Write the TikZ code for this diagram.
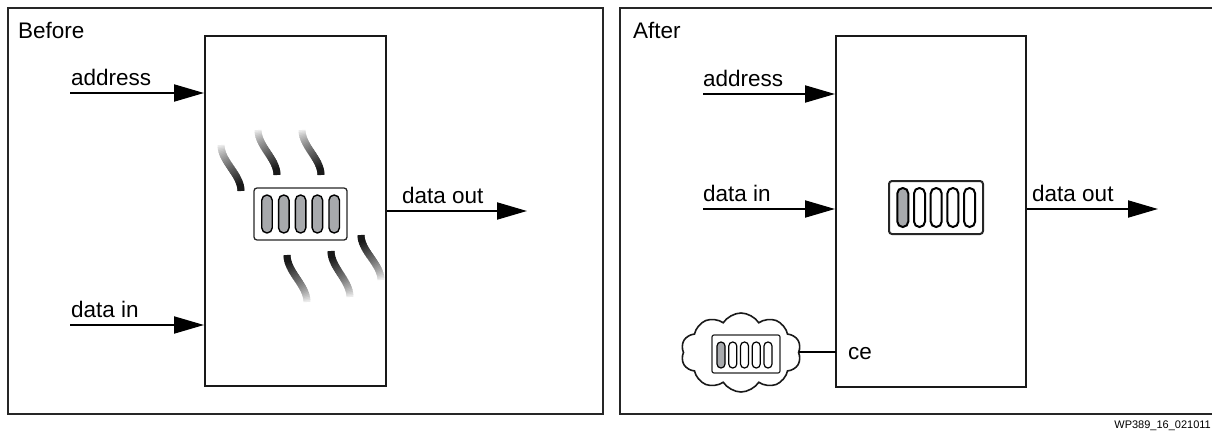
\documentclass[tikz,border=0pt]{standalone}
\usepackage{fontspec}
\setmainfont{Liberation Sans}
\usetikzlibrary{shapes.symbols,arrows.meta}
\definecolor{pillgray}{HTML}{A7A9AC}
\tikzset{
  frame/.style={draw=black!85,line width=2pt},
  block/.style={draw=black!90,line width=2pt},
  sig/.style={line width=2pt,-{Triangle[length=30pt,width=17pt]}},
  lbl/.style={font=\fontsize{22.5}{26}\selectfont,anchor=base west,inner sep=0pt},
  reg/.style={draw=black!85,rounded corners=3pt},
}
% pill: #1 x center, #2 top y, #3 bottom y, #4 width, #5 fill, #6 line width
\newcommand{\mypill}[6]{%
  \draw[line width=#6,fill=#5,rounded corners=#4*0.5pt*0.99]
    ({#1-#4/2},#2) rectangle ({#1+#4/2},#3);}
% heat wave: faded end (#1,#2) to dark end (#3,#4)
\newcommand{\heatwave}[4]{%
  \foreach \i in {0,...,29}{%
    \pgfmathsetmacro{\sa}{\i/30}%
    \pgfmathsetmacro{\sb}{min(1,(\i+1.6)/30)}%
    \pgfmathsetmacro{\dk}{min(90,100*((\i+1)/30)^0.75)}%
    \draw[line width=7pt,color=black!\dk]
      ({#1+(#3-#1)*(1-cos(180*\sa))/2},{#2+(#4-#2)*\sa}) --
      ({#1+(#3-#1)*(1-cos(180*\sb))/2},{#2+(#4-#2)*\sb});}}
\begin{document}
\begin{tikzpicture}[x=1pt,y=-1pt]
\useasboundingbox (0,0) rectangle (1212,436);
% frames
\draw[frame] (8,8) rectangle (603,414);
\draw[frame] (1214,8) -- (620,8) -- (620,414) -- (1214,414);
\node[lbl] (before) at (18,38) {Before};
\node[lbl] (after) at (633,38) {After};
\node[anchor=base east,inner sep=0pt,font=\fontsize{11}{13}\selectfont] (wp) at (1211,428) {WP389\_16\_021011};

% ---------- Before ----------
\node[block,minimum width=181pt,minimum height=350pt,inner sep=0pt] (memA) at (295.5,211) {};
\coordinate (addrA) at (70,93);
\coordinate (dinA) at (70,325);
\coordinate (doutA) at (527,211);
\draw[sig] (addrA) -- (addrA -| memA.west);
\draw[sig] (dinA) -- (dinA -| memA.west);
\draw[sig] (doutA -| memA.east) -- (doutA);
\node[lbl] (laddrA) at (71,85) {address};
\node[lbl] (ldinA) at (71,317) {data in};
\node[lbl] (ldoutA) at (402,203) {data out};
% register (hot)
\node[reg,line width=1.3pt,minimum width=93pt,minimum height=52pt,inner sep=0pt] (regA) at (300.5,214) {};
\foreach \k in {0,...,4}{\mypill{267+16.8*\k}{195}{233}{10.5}{pillgray}{1.4pt}}
% heat waves
\heatwave{221}{145}{241}{191}
\heatwave{258}{130}{277}{175}
\heatwave{302}{130}{321}{175}
\heatwave{307}{302}{287}{255}
\heatwave{350}{297}{331}{251}
\heatwave{381}{280}{361}{235}

% ---------- After ----------
\node[block,minimum width=190pt,minimum height=351pt,inner sep=0pt] (memB) at (931,211.5) {};
\coordinate (addrB) at (703,94);
\coordinate (dinB) at (703,209);
\coordinate (doutB) at (1158,209);
\draw[sig] (addrB) -- (addrB -| memB.west);
\draw[sig] (dinB) -- (dinB -| memB.west);
\draw[sig] (doutB -| memB.east) -- (doutB);
\node[lbl] (laddrB) at (703,86) {address};
\node[lbl] (ldinB) at (703,201) {data in};
\node[lbl] (ldoutB) at (1032,201) {data out};
\node[reg,line width=2pt,minimum width=94pt,minimum height=53pt,inner sep=0pt] (regB) at (936,207.5) {};
\mypill{902.8}{188}{227}{11}{pillgray}{2pt}
\foreach \k in {1,...,4}{\mypill{902.8+16.7*\k}{188}{227}{11}{white}{2pt}}
% cloud
\node[cloud,draw=black!90,line width=1.6pt,cloud puffs=10,cloud puff arc=115,aspect=1.6,
      minimum width=120pt,minimum height=79pt,inner sep=0pt] (cloudB) at (741,352.5) {};
\node[reg,line width=1.2pt,rounded corners=2pt,minimum width=68pt,minimum height=38pt,inner sep=0pt] (regC) at (746,354) {};
\mypill{721}{342}{368}{8}{pillgray}{1.2pt}
\foreach \k in {1,...,4}{\mypill{721+11.75*\k}{342}{368}{8}{white}{1.2pt}}
\coordinate (ceB) at (836,352);
\draw[line width=2pt] (cloudB.east |- ceB) -- (ceB);
\node[lbl] (lce) at (848,359) {ce};
\end{tikzpicture}
\end{document}
